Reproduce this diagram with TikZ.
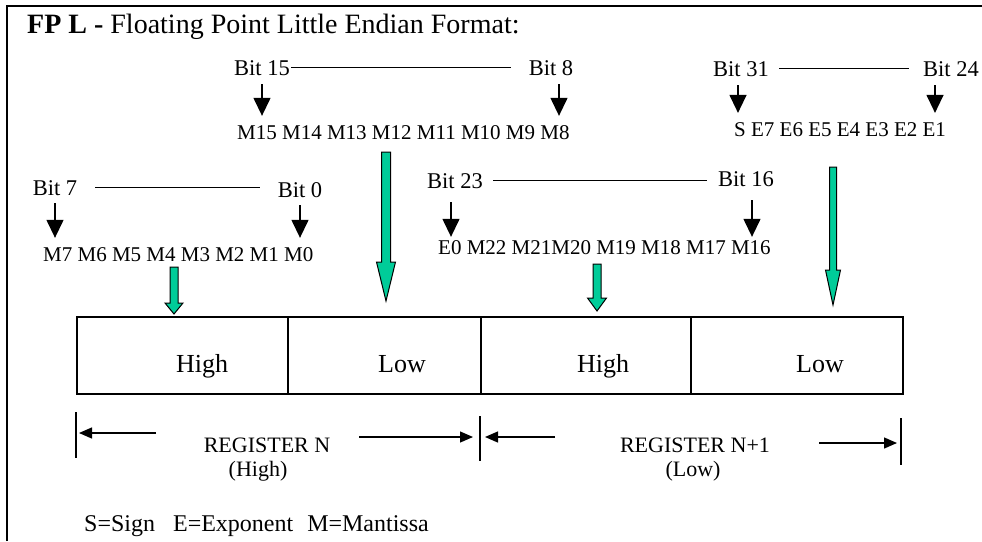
\documentclass[tikz,border=0pt]{standalone}
\usepackage{fontspec}
\setmainfont{Liberation Serif}
\usetikzlibrary{arrows.meta,positioning,calc}
\usepackage{xcolor}
\definecolor{ArrowGreen}{HTML}{00CC99}

\begin{document}
\begin{tikzpicture}[x=1pt,y=-1pt,
  title/.style={anchor=base west,inner sep=0pt,font=\fontsize{28}{32}\selectfont},
  bitlbl/.style={anchor=base,inner sep=1pt,font=\fontsize{22.5}{26}\selectfont},
  bitrow/.style={anchor=base west,inner sep=1pt,font=\fontsize{21}{24}\selectfont},
  cell/.style={draw,line width=1.3pt,minimum height=77pt,inner sep=0pt},
  celltxt/.style={anchor=base,inner sep=0pt,font=\fontsize{26}{30}\selectfont},
  regtxt/.style={anchor=base,inner sep=0pt,font=\fontsize{22}{26}\selectfont},
  legend/.style={anchor=base west,inner sep=0pt,font=\fontsize{24}{28}\selectfont},
  span/.style={line width=1.3pt},
  blkarrow/.style={-{Triangle[length=18pt,width=17pt]},line width=1.3pt,shorten <=7pt,shorten >=8pt},
  regarrow/.style={-{Triangle[length=13pt,width=11pt]},line width=1.3pt},
  greenarrow/.style={draw=black,line width=1pt,fill=ArrowGreen,line join=miter}]
  \useasboundingbox (0,0) rectangle (982,541);
  % frame
  \draw[line width=2.4pt] (7,541) -- (7,6) -- (982,6);
  \node[title] (ttl) at (27,33) {\textbf{FP L -} Floating Point Little Endian Format:};

  % bit labels
  \node[bitlbl] (b15) at (262,75) {Bit 15};
  \node[bitlbl] (b8) at (551,75) {Bit 8};
  \node[bitlbl] (b31) at (741,76) {Bit 31};
  \node[bitlbl] (b24) at (951,76) {Bit 24};
  \node[bitlbl] (b7) at (55,195) {Bit 7};
  \node[bitlbl] (b0) at (300,197) {Bit 0};
  \node[bitlbl] (b23) at (455,188) {Bit 23};
  \node[bitlbl] (b16) at (746,186) {Bit 16};

  % bit rows
  \node[bitrow] (mhi) at (236,139) {M15 M14 M13 M12 M11 M10 M9 M8};
  \node[bitrow] (sexp) at (733,136) {S E7 E6 E5 E4 E3 E2 E1};
  \node[bitrow] (mlo) at (42,261) {M7 M6 M5 M4 M3 M2 M1 M0};
  \node[bitrow] (mmid) at (437,254) {E0 M22 M21M20 M19 M18 M17 M16};

  % spans between bit labels
  \draw[span,shorten >=17pt] (b15.east) -- (b15.east -| b8.west);
  \draw[span,shorten <=9pt,shorten >=13pt] (b31.east) -- (b31.east -| b24.west);
  \draw[span,shorten <=17pt,shorten >=17pt] (b7.east) -- (b7.east -| b0.west);
  \draw[span,shorten <=9pt,shorten >=10pt] (b23.east) -- (b23.east -| b16.west);

  % bit arrows
  \draw[blkarrow,shorten <=8pt] (b15.south) -- (b15.south |- mhi.north);
  \draw[blkarrow,shorten <=8pt] ([xshift=8pt]b8.south) -- ([xshift=8pt]b8.south |- mhi.north);
  \draw[blkarrow,shorten <=8pt] ([xshift=-3pt]b31.south) -- ([xshift=-3pt]b31.south |- sexp.north);
  \draw[blkarrow,shorten <=8pt] ([xshift=-16pt]b24.south) -- ([xshift=-16pt]b24.south |- sexp.north);
  \draw[blkarrow] (b7.south) -- (b7.south |- mlo.north);
  \draw[blkarrow] (b0.south) -- (b0.south |- mlo.north);
  \draw[blkarrow,shorten <=13pt,shorten >=2pt] ([xshift=-4pt]b23.south) -- ([xshift=-4pt]b23.south |- mmid.north);
  \draw[blkarrow,shorten <=13pt,shorten >=2pt] ([xshift=6pt]b16.south) -- ([xshift=6pt]b16.south |- mmid.north);

  % registers
  \node[cell,minimum width=211pt] (c1) at (182.5,355.5) {};
  \node[cell,minimum width=193pt] (c2) at (384.5,355.5) {};
  \node[cell,minimum width=210pt] (c3) at (586,355.5) {};
  \node[cell,minimum width=212pt] (c4) at (797,355.5) {};
  \node[celltxt] (h1) at (202,372) {High};
  \node[celltxt] (l1) at (402,372) {Low};
  \node[celltxt] (h2) at (603,372) {High};
  \node[celltxt] (l2) at (820,372) {Low};

  % green arrows
  \draw[greenarrow] (170,267) -- (178,267) -- (178,303) -- (183,303) -- (174,314) -- (165,303) -- (170,303) -- cycle;
  \draw[greenarrow] (381.5,152) -- (390.5,152) -- (390.5,262) -- (395.5,262) -- (386,301) -- (376.5,262) -- (381.5,262) -- cycle;
  \draw[greenarrow] (593,264) -- (601,264) -- (601,298) -- (606.5,298) -- (597,311) -- (587.5,298) -- (593,298) -- cycle;
  \draw[greenarrow] (829.5,167) -- (836.5,167) -- (836.5,270) -- (840.5,270) -- (833,305) -- (825.5,270) -- (829.5,270) -- cycle;

  % register spans
  \coordinate (tk1a) at (76,412);
  \coordinate (tk1b) at (76,458);
  \coordinate (tk2a) at (480,416);
  \coordinate (tk2b) at (480,461);
  \coordinate (tk3a) at (901,418);
  \coordinate (tk3b) at (901,465);
  \draw[span] (tk1a) -- (tk1b);
  \draw[span] (tk2a) -- (tk2b);
  \draw[span] (tk3a) -- (tk3b);
  \node[regtxt] (regn) at (267,452) {REGISTER N};
  \node[regtxt] (regnh) at (258,476) {(High)};
  \node[regtxt] (regm) at (695,452) {REGISTER N+1};
  \node[regtxt] (regml) at (693,476) {(Low)};
  \coordinate (ta1) at (156,433);
  \coordinate (ta2) at (359,437);
  \coordinate (ta3) at (555,437);
  \coordinate (ta4) at (819,443);
  \draw[regarrow,shorten >=3pt] (ta1) -- (ta1 -| tk1a);
  \draw[regarrow,shorten >=7pt] (ta2) -- (ta2 -| tk2a);
  \draw[regarrow,shorten >=5pt] (ta3) -- (ta3 -| tk2a);
  \draw[regarrow,shorten >=4pt] (ta4) -- (ta4 -| tk3a);

  \node[legend] (lgd) at (84,531) {S=Sign\hspace{18pt}E=Exponent\hspace{14pt}M=Mantissa};
\end{tikzpicture}
\end{document}
